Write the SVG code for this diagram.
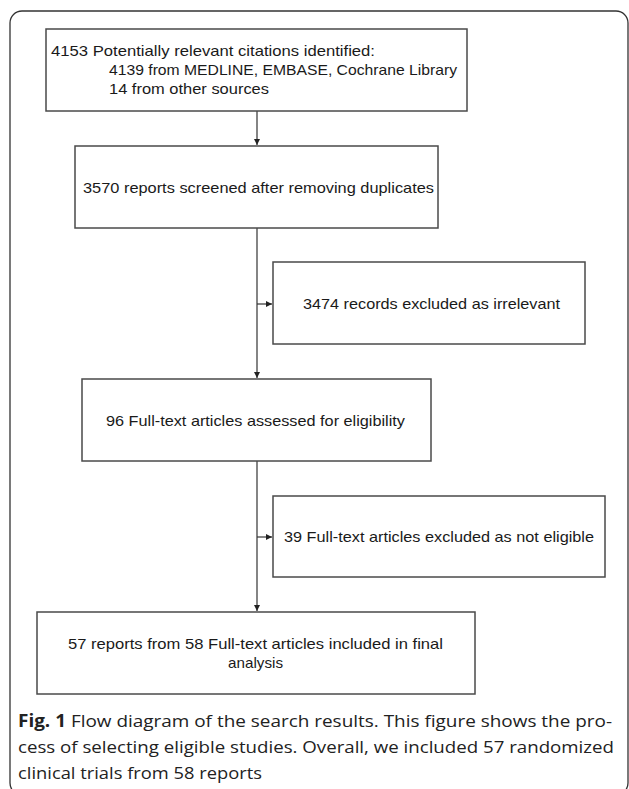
<svg xmlns="http://www.w3.org/2000/svg" width="629" height="789" viewBox="0 0 629 789">
<style>
.box{fill:#fff;stroke:#4a4a4a;stroke-width:1.5}
.t{font-family:"Liberation Sans",Arial,sans-serif;font-size:14.8px;fill:#1a1a1a}
.c{font-family:"Open Sans","Noto Sans",sans-serif;font-size:17px;fill:#222}
.ln{stroke:#333;stroke-width:1.2;fill:none}
</style>
<defs>
<marker id="ah" markerWidth="6" markerHeight="6" refX="6" refY="3" orient="auto" markerUnits="userSpaceOnUse">
<path d="M0,0 L6,3 L0,6 Z" fill="#222"/>
</marker>
</defs>
<rect x="10" y="11" width="618" height="784" rx="12" ry="12" fill="none" stroke="#333" stroke-width="1.3"/>
<g id="connectors">
<line class="ln" x1="257" y1="111" x2="257" y2="145" marker-end="url(#ah)"/>
<line class="ln" x1="257" y1="228" x2="257" y2="378" marker-end="url(#ah)"/>
<line class="ln" x1="257" y1="304" x2="272" y2="304" marker-end="url(#ah)"/>
<line class="ln" x1="257" y1="461" x2="257" y2="611" marker-end="url(#ah)"/>
<line class="ln" x1="257" y1="537" x2="272" y2="537" marker-end="url(#ah)"/>
</g>
<g id="n1">
<rect class="box" x="46" y="29" width="421" height="82"/>
<text class="t" x="51" y="56" textLength="324" lengthAdjust="spacingAndGlyphs">4153 Potentially relevant citations identified:</text>
<text class="t" x="109" y="75" textLength="348" lengthAdjust="spacingAndGlyphs">4139 from MEDLINE, EMBASE, Cochrane Library</text>
<text class="t" x="109" y="94" textLength="160" lengthAdjust="spacingAndGlyphs">14 from other sources</text>
</g>
<g id="n2">
<rect class="box" x="75" y="146" width="363" height="82"/>
<text class="t" x="83" y="193" textLength="351" lengthAdjust="spacingAndGlyphs">3570 reports screened after removing duplicates</text>
</g>
<g id="n3">
<rect class="box" x="273" y="262" width="312" height="82"/>
<text class="t" x="303" y="309" textLength="257" lengthAdjust="spacingAndGlyphs">3474 records excluded as irrelevant</text>
</g>
<g id="n4">
<rect class="box" x="82" y="379" width="349" height="82"/>
<text class="t" x="106" y="426" textLength="299" lengthAdjust="spacingAndGlyphs">96 Full-text articles assessed for eligibility</text>
</g>
<g id="n5">
<rect class="box" x="273" y="496" width="332" height="81"/>
<text class="t" x="284" y="542" textLength="310" lengthAdjust="spacingAndGlyphs">39 Full-text articles excluded as not eligible</text>
</g>
<g id="n6">
<rect class="box" x="37" y="612" width="438" height="82"/>
<text class="t" x="68" y="649" textLength="375" lengthAdjust="spacingAndGlyphs">57 reports from 58 Full-text articles included in final</text>
<text class="t" x="228" y="668" textLength="55" lengthAdjust="spacingAndGlyphs">analysis</text>
</g>
<g id="caption">
<text class="c" x="18" y="727" textLength="594" lengthAdjust="spacingAndGlyphs"><tspan font-weight="bold">Fig. 1</tspan>  Flow diagram of the search results. This figure shows the pro-</text>
<text class="c" x="18" y="753" textLength="596" lengthAdjust="spacingAndGlyphs">cess of selecting eligible studies. Overall, we included 57 randomized</text>
<text class="c" x="18" y="779" textLength="244" lengthAdjust="spacingAndGlyphs">clinical trials from 58 reports</text>
</g>
</svg>
